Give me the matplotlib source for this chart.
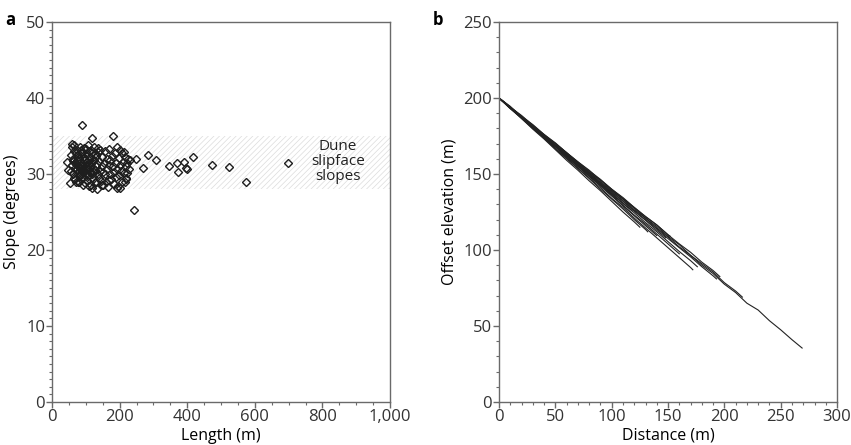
import numpy as np
import matplotlib
matplotlib.use('Agg')
import matplotlib.pyplot as plt
from matplotlib.ticker import MultipleLocator, FuncFormatter

plt.rcParams['font.family'] = ['Open Sans', 'DejaVu Sans']
plt.rcParams['hatch.linewidth'] = 0.5

# panel a: slipface length vs slope
length = [89, 119, 180, 243, 249, 270, 283, 309, 347, 370, 372, 390, 396, 398, 418, 474, 523, 574, 698,
          58, 53, 81, 117, 134, 147, 191, 201, 193, 200, 216, 223, 221, 219, 172, 170, 137, 107, 43, 48,
          55, 58, 60, 62, 63, 65, 66, 68, 70, 70, 72, 73, 75, 76, 78, 79, 80, 82, 83, 85, 86, 88, 89, 90,
          92, 93, 95, 96, 97, 99, 100, 101, 103, 104, 105, 107, 108, 110, 111, 113, 114, 116, 117, 119,
          120, 122, 123, 125, 126, 128, 130, 131, 133, 135, 136, 138, 140, 142, 143, 145, 147, 149, 150,
          152, 154, 156, 158, 160, 162, 164, 166, 168, 170, 172, 175, 177, 180, 182, 184, 186, 188, 190,
          192, 195, 197, 199, 202, 204, 206, 208, 210, 212, 214, 216, 218, 220, 224, 228, 231,
          57, 61, 64, 67, 69, 71, 74, 77, 81, 84, 87, 91, 94, 98, 102, 106, 109, 112, 115, 118, 121, 124,
          127, 129, 65, 75, 85, 95, 105, 115, 78, 92, 108]
slope = [36.4, 34.8, 35.0, 25.3, 32.0, 30.8, 32.5, 31.8, 31.0, 31.4, 30.2, 31.6, 30.8, 30.6, 32.2, 31.2, 30.9, 28.9, 31.4,
         33.9, 28.8, 29.0, 28.2, 28.0, 28.6, 28.2, 28.1, 33.6, 33.2, 32.3, 31.4, 30.1, 29.4, 31.8, 29.2, 33.4, 33.8, 31.6, 30.5,
         32.5, 31.2, 33.5, 30.0, 32.0, 29.5, 33.0, 31.5, 30.5, 32.8, 29.0, 31.8, 33.2, 30.2, 32.2, 29.8, 31.0, 33.6, 30.6, 32.4, 29.3, 31.4, 30.0, 32.9,
         31.0, 29.6, 33.4, 30.4, 32.0, 28.8, 31.6, 30.1, 32.6, 29.2, 31.2, 30.6, 33.0, 29.9, 32.2, 31.0, 28.6, 30.3, 32.8, 31.6,
         29.4, 30.8, 33.5, 31.9, 29.0, 30.5, 32.4, 28.9, 31.3, 30.0, 32.9, 29.5, 31.7, 30.4, 33.1, 29.1, 31.0, 32.3, 30.2,
         28.5, 31.5, 33.0, 30.0, 29.0, 32.0, 30.7, 28.3, 31.2, 33.3, 30.0, 29.3, 32.4, 31.0, 28.7, 30.3, 32.8, 29.6, 31.5,
         30.6, 28.4, 32.1, 29.9, 31.2, 30.4, 32.7, 29.0, 31.6, 30.1, 32.9, 28.9, 31.0, 29.5, 32.0, 30.7, 31.8,
         30.4, 31.7, 33.8, 30.8, 29.4, 31.3, 32.5, 31.0, 32.0, 29.9, 33.1, 30.4, 31.9, 30.9, 33.3, 29.7, 31.8, 30.3, 33.1, 30.0, 31.9, 30.3,
         32.6, 31.1, 31.9, 30.7, 31.1, 32.2, 30.0, 31.5, 28.9, 28.5, 28.4]
band_low, band_high = 28, 35

# panel b: slipface elevation profiles offset to 200 m
profiles = [
    ([0, 10, 20, 30, 40, 50, 60, 70, 80, 90, 100, 110, 120, 130, 140, 150, 160, 170, 180, 190, 200, 210, 220, 230, 240, 250, 260, 269],
     [200, 193.5, 188, 181, 175.5, 169, 163.5, 157, 151.5, 145, 139, 133.5, 126.5, 121, 114.5, 108.5, 102, 96.5, 90, 84.5, 77.5, 72, 65, 60.5, 53.5, 47.5, 41, 35.5]),
    ([0, 10, 20, 30, 40, 50, 60, 70, 80, 90, 100, 110, 120, 130, 140, 150, 160, 170, 180, 190, 200, 210, 216],
     [200, 194.5, 187.5, 182, 175.5, 170, 164, 157.5, 151, 146, 139.5, 133.5, 127.5, 121, 115.5, 109, 103.5, 96.5, 91, 85.5, 78.5, 73, 69]),
    ([0, 10, 20, 30, 40, 50, 60, 70, 80, 90, 100, 110, 120, 130, 140, 150, 160, 170, 180, 190, 196],
     [200, 194, 188.5, 182, 176, 170.5, 164, 158, 152.5, 146, 140, 134.5, 128, 122, 116.5, 110, 104, 98.5, 92, 86.5, 82.5]),
    ([0, 10, 20, 30, 40, 50, 60, 70, 80, 90, 100, 110, 120, 130, 140, 150, 160, 170, 180, 190, 193],
     [200, 193.5, 187.5, 181.5, 175, 169, 163, 157, 150.5, 144.5, 138.5, 132.5, 126, 120, 114, 107.5, 101.5, 95.5, 89, 83, 81]),
    ([0, 10, 20, 30, 40, 50, 60, 70, 80, 90, 100, 110, 120, 130, 140, 150, 160, 170, 172],
     [200, 193, 187, 180, 174, 167, 160.5, 154, 147.5, 141, 134, 128, 121, 114.5, 108, 101.5, 95, 88.5, 87]),
    ([0, 10, 20, 30, 40, 50, 60, 70, 80, 90, 100, 110, 120, 130, 140, 150, 160, 170, 176],
     [200, 193.5, 187.5, 181, 175, 168.5, 162, 156, 149.5, 143.5, 137, 130.5, 124.5, 118, 112, 105.5, 99, 93, 89]),
    ([0, 10, 20, 30, 40, 50, 60, 70, 80, 90, 100, 110, 120, 130, 140, 150, 160],
     [200, 193.5, 187, 181, 174.5, 168, 161.5, 155, 148.5, 142.5, 136, 129.5, 123, 117, 110.5, 104, 97.5]),
    ([0, 10, 20, 30, 40, 50, 60, 70, 80, 90, 100, 110, 120, 130, 140, 150, 152],
     [200, 194, 188, 182.5, 176, 170, 164, 158, 152, 146.5, 140, 134, 128, 122, 116.5, 110, 109]),
    ([0, 10, 20, 30, 40, 50, 60, 70, 80, 90, 100, 110, 120, 130, 140, 148],
     [200, 194, 187.5, 181.5, 175, 169, 163, 156.5, 150.5, 144, 138, 132, 125.5, 119.5, 113, 108]),
    ([0, 10, 20, 30, 40, 50, 60, 70, 80, 90, 100, 110, 120, 130, 140],
     [200, 193.5, 187, 180.5, 174, 168, 161, 155, 148.5, 142, 135.5, 129, 122.5, 116, 109.5]),
    ([0, 10, 20, 30, 40, 50, 60, 70, 80, 90, 100, 110, 120, 130, 132],
     [200, 193.5, 186.5, 180, 173.5, 166.5, 160, 153.5, 147, 140, 133.5, 127, 120, 113.5, 112]),
    ([0, 10, 20, 30, 40, 50, 60, 70, 80, 90, 100, 110, 120, 125],
     [200, 193, 186.5, 179.5, 173, 166, 159, 152.5, 145.5, 139, 132, 125, 118.5, 115]),
    ([0, 10, 20, 30, 40, 50, 60, 70, 80, 90, 100, 110, 118],
     [200, 193.5, 187.5, 181, 175, 168.5, 162.5, 156, 150, 143.5, 137.5, 131, 126]),
    ([0, 10, 20, 30, 40, 50, 60, 70, 80, 90, 100, 105],
     [200, 193.5, 187.5, 181, 174.5, 168, 162, 155.5, 149, 143, 136.5, 133.5]),
]

fig = plt.figure(figsize=(8.51, 4.45), dpi=100)
ax1 = fig.add_axes([0.0611, 0.0966, 0.3972, 0.854])
ax2 = fig.add_axes([0.5864, 0.0966, 0.3972, 0.854])

ax1.axhspan(band_low, band_high, facecolor='white', edgecolor='#dcdcdc', hatch='//////', linewidth=0, zorder=0)
ax1.plot(length, slope, linestyle='none', marker='D', markersize=4.3, markerfacecolor='none',
         markeredgecolor='#1e1e1e', markeredgewidth=1.0, zorder=2)
ax1.text(846, 31.6, 'Dune\nslipface\nslopes', ha='center', va='center', fontsize=11, color='#222222', linespacing=1.0)
ax1.set_xlim(0, 1000)
ax1.set_ylim(0, 50)
ax1.xaxis.set_major_locator(MultipleLocator(200))
ax1.xaxis.set_minor_locator(MultipleLocator(50))
ax1.yaxis.set_major_locator(MultipleLocator(10))
ax1.yaxis.set_minor_locator(MultipleLocator(1))
ax1.xaxis.set_major_formatter(FuncFormatter(lambda v, p: f'{int(v):,}'))
ax1.set_xlabel('Length (m)', fontsize=11.5, labelpad=2)
ax1.set_ylabel('Slope (degrees)', fontsize=11.5, labelpad=4)

for d, e in profiles:
    ax2.plot(d, e, color='#222222', linewidth=0.8)
ax2.set_xlim(0, 300)
ax2.set_ylim(0, 250)
ax2.xaxis.set_major_locator(MultipleLocator(50))
ax2.xaxis.set_minor_locator(MultipleLocator(10))
ax2.yaxis.set_major_locator(MultipleLocator(50))
ax2.yaxis.set_minor_locator(MultipleLocator(10))
ax2.set_xlabel('Distance (m)', fontsize=11.5, labelpad=2)
ax2.set_ylabel('Offset elevation (m)', fontsize=11.5, labelpad=4)

for ax in (ax1, ax2):
    for sp in ax.spines.values():
        sp.set_color('#6a6a6a')
        sp.set_linewidth(1.0)
    ax.tick_params(which='both', direction='out', color='#6a6a6a', top=False, right=False)
    ax.tick_params(which='major', length=4, width=1.0, labelsize=12, labelcolor='#333333', pad=1)
    ax.tick_params(which='minor', length=2, width=0.8)

fig.text(0.006, 0.955, 'a', fontsize=12, fontweight='bold', va='center')
fig.text(0.508, 0.955, 'b', fontsize=12, fontweight='bold', va='center')

fig.savefig('out.png', dpi=100)
